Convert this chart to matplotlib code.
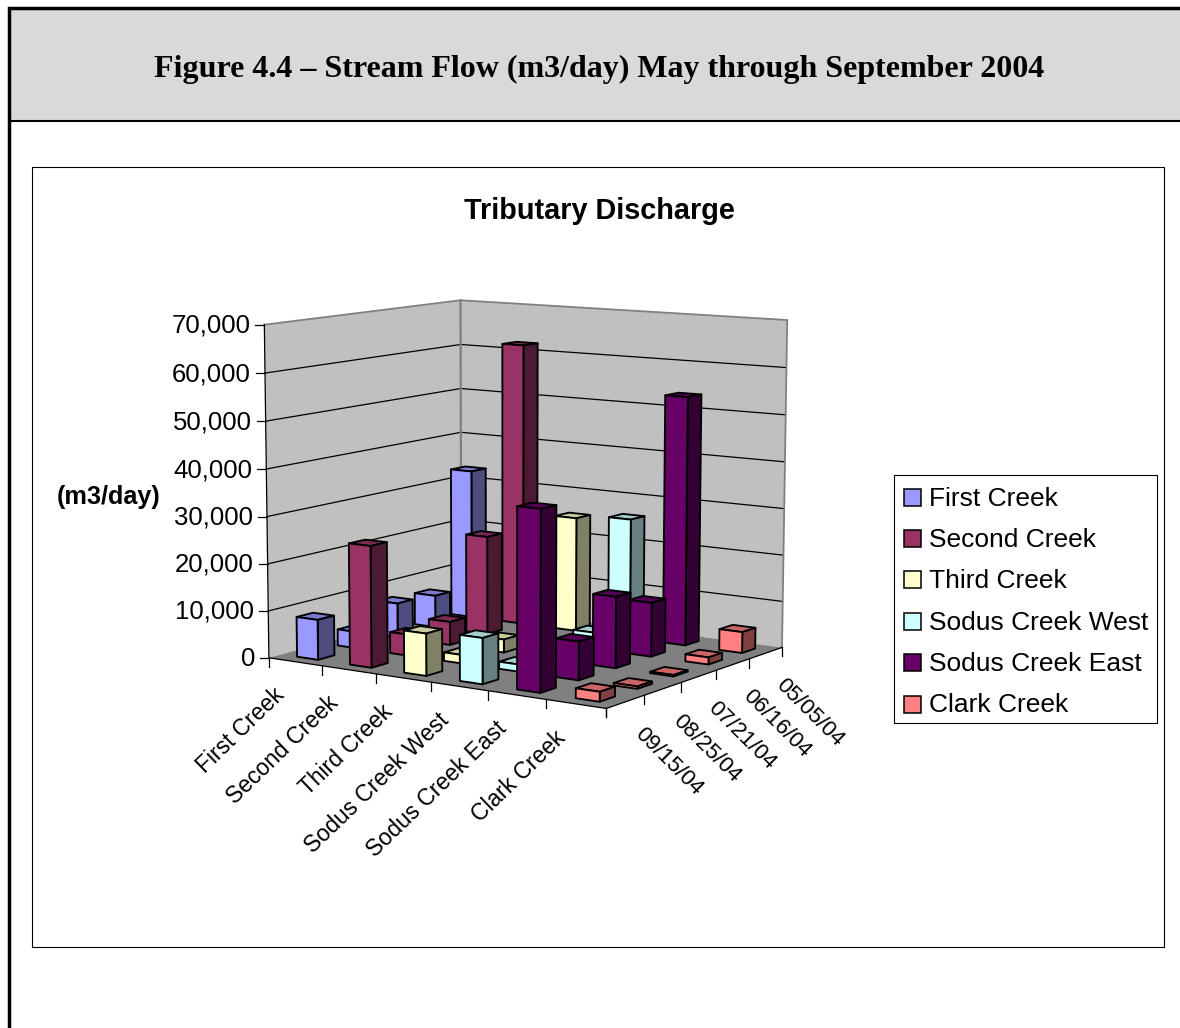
import numpy as np
import matplotlib
matplotlib.use('Agg')
import matplotlib.pyplot as plt
from matplotlib.patches import Polygon, Rectangle

creeks = ['First Creek', 'Second Creek', 'Third Creek', 'Sodus Creek West', 'Sodus Creek East', 'Clark Creek']
dates = ['05/05/04', '06/16/04', '07/21/04', '08/25/04', '09/15/04']  # back to front
yticks = [0, 10000, 20000, 30000, 40000, 50000, 60000, 70000]

first_creek = [33000, 7000, 7500, 3500, 8500]
second_creek = [62000, 21500, 5000, 4500, 25500]
third_creek = [25000, 1500, 2800, 1800, 8800]
sodus_west = [26000, 3500, 2500, 1500, 9500]
sodus_east = [53500, 11500, 15000, 8000, 37000]
clark_creek = [4500, 1500, 300, 500, 2000]
flows = [first_creek, second_creek, third_creek, sodus_west, sodus_east, clark_creek]

face = ['#9999FF', '#993366', '#FFFFCC', '#CCFFFF', '#660066', '#FF8080']
side = ['#4D4D80', '#4D1A33', '#808066', '#668080', '#330033', '#804040']
top = ['#7A7ACC', '#7A2952', '#CCCCA3', '#A3CCCC', '#520052', '#CC6666']

plt.rcParams['font.family'] = ['Liberation Sans', 'DejaVu Sans']

# camera fitted on the corners of the box: (creek, date, flow/10000) -> pixel
box3d = np.array([[0, 5, 0], [6, 5, 0], [6, 0, 0], [0, 0, 0], [0, 5, 7], [0, 0, 7], [6, 0, 7]], float)
box2d = np.array([[269, 657], [606.5, 709], [782, 647], [461, 606], [264, 325], [461, 300], [787, 320]], float)
rows = []
rhs = []
for (a, b, c), (u, v) in zip(box3d, box2d):
    rows.append([a, b, c, 1, 0, 0, 0, 0, -u * a, -u * b, -u * c])
    rhs.append(u)
    rows.append([0, 0, 0, 0, a, b, c, 1, -v * a, -v * b, -v * c])
    rhs.append(v)
cam = np.append(np.linalg.lstsq(np.array(rows), np.array(rhs), rcond=None)[0], 1).reshape(3, 4)


def pr(s, d, z):
    p = cam @ np.array([s, d, z / 10000.0, 1.0])
    return p[0] / p[2], p[1] / p[2]


fig = plt.figure(figsize=(11.8, 10.28), dpi=100)
ax = fig.add_axes([0, 0, 1, 1])
ax.set_xlim(0, 1180)
ax.set_ylim(1028, 0)
ax.axis('off')

# page frame
ax.add_patch(Rectangle((9, 8), 1171, 112, fc='#D9D9D9', ec='none', zorder=0))
ax.plot([1180, 9.2, 9.2], [7.7, 7.7, 1028], color='k', lw=2.5, solid_joinstyle='miter', zorder=1)
ax.plot([9, 1180], [121, 121], color='k', lw=1.5, zorder=1)
ax.text(599, 69, 'Figure 4.4 \u2013 Stream Flow (m3/day) May through September 2004', family='Liberation Serif',
        weight='bold', fontsize=23, ha='center', va='center')

# chart frame
ax.add_patch(Rectangle((32, 167), 1132, 780, fc='w', ec='k', lw=0.8, zorder=1))
ax.text(599, 211, 'Tributary Discharge', weight='bold', fontsize=20.8, ha='center', va='center')
ax.text(108.5, 497, '(m3/day)', weight='bold', fontsize=18.2, ha='center', va='center')

# walls and floor
wall = '#C0C0C0'
ax.add_patch(Polygon([pr(0, 5, 0), pr(0, 0, 0), pr(0, 0, 70000), pr(0, 5, 70000)], fc=wall, ec='none', zorder=2))
ax.add_patch(Polygon([pr(0, 0, 0), pr(6, 0, 0), pr(6, 0, 70000), pr(0, 0, 70000)], fc=wall, ec='none', zorder=2))
ax.add_patch(Polygon([pr(0, 5, 0), pr(6, 5, 0), pr(6, 0, 0), pr(0, 0, 0)], fc='#808080', ec='none', zorder=3))

for v in yticks[1:-1]:
    xs, ys = zip(pr(0, 5, v), pr(0, 0, v), pr(6, 0, v))
    ax.plot(xs, ys, color='k', lw=0.9, zorder=3)
xs, ys = zip(pr(0, 5, 70000), pr(0, 0, 70000), pr(6, 0, 70000), pr(6, 0, 0))
ax.plot(xs, ys, color='#808080', lw=1.3, zorder=3)
xs, ys = zip(pr(0, 0, 70000), pr(0, 0, 0))
ax.plot(xs, ys, color='#808080', lw=1.6, zorder=3)

# axis lines and ticks
xs, ys = zip(pr(0, 5, 70000), pr(0, 5, 0), pr(6, 5, 0), pr(6, 0, 0))
ax.plot(xs, ys, color='k', lw=0.9, zorder=4)
for v in yticks:
    x, y = pr(0, 5, v)
    ax.plot([x - 9, x], [y, y], color='k', lw=0.9, zorder=4)
    ax.text(x - 14, y + 1, f'{v:,}', fontsize=18.5, ha='right', va='center')
for i in range(len(creeks) + 1):
    x, y = pr(i, 5, 0)
    ax.plot([x, x], [y, y + 9], color='k', lw=0.9, zorder=4)
for i in range(len(dates) + 1):
    x, y = pr(6, i, 0)
    ax.plot([x, x], [y, y + 9], color='k', lw=0.9, zorder=4)
for i, name in enumerate(creeks):
    x, y = pr(i + 0.5, 5, 0)
    ax.text(x - 22, y + 22, name, fontsize=16.5, rotation=44, rotation_mode='anchor', ha='right', va='top')
for i, name in enumerate(dates):
    x, y = pr(6, i + 0.5, 0)
    ax.text(x + 13, y + 29, name, fontsize=16, rotation=-45, rotation_mode='anchor', ha='left', va='center')

# bars, back row first so nearer ones cover them
zo = 10
for j in range(len(dates)):
    for i in range(len(creeks)):
        h = flows[i][j]
        s0, s1 = i + 0.3, i + 0.7
        d0, d1 = j + 0.3, j + 0.7
        kw = dict(ec='k', lw=1.35, joinstyle='round')
        ax.add_patch(Polygon([pr(s0, d1, h), pr(s1, d1, h), pr(s1, d0, h), pr(s0, d0, h)], fc=top[i], zorder=zo, **kw))
        ax.add_patch(Polygon([pr(s1, d1, 0), pr(s1, d0, 0), pr(s1, d0, h), pr(s1, d1, h)], fc=side[i], zorder=zo, **kw))
        ax.add_patch(Polygon([pr(s0, d1, 0), pr(s1, d1, 0), pr(s1, d1, h), pr(s0, d1, h)], fc=face[i], zorder=zo, **kw))
        zo += 1

# legend
ax.add_patch(Rectangle((894, 475), 263, 247.5, fc='w', ec='k', lw=0.8, zorder=5))
for i, name in enumerate(creeks):
    y = 497 + i * 41.4
    ax.add_patch(Rectangle((903.5, y - 8.5), 17, 17, fc=face[i], ec='k', lw=1.1, zorder=6))
    ax.text(929, y + 1.5, name, fontsize=19, ha='left', va='center', zorder=6)

fig.savefig('out.png', dpi=100)
